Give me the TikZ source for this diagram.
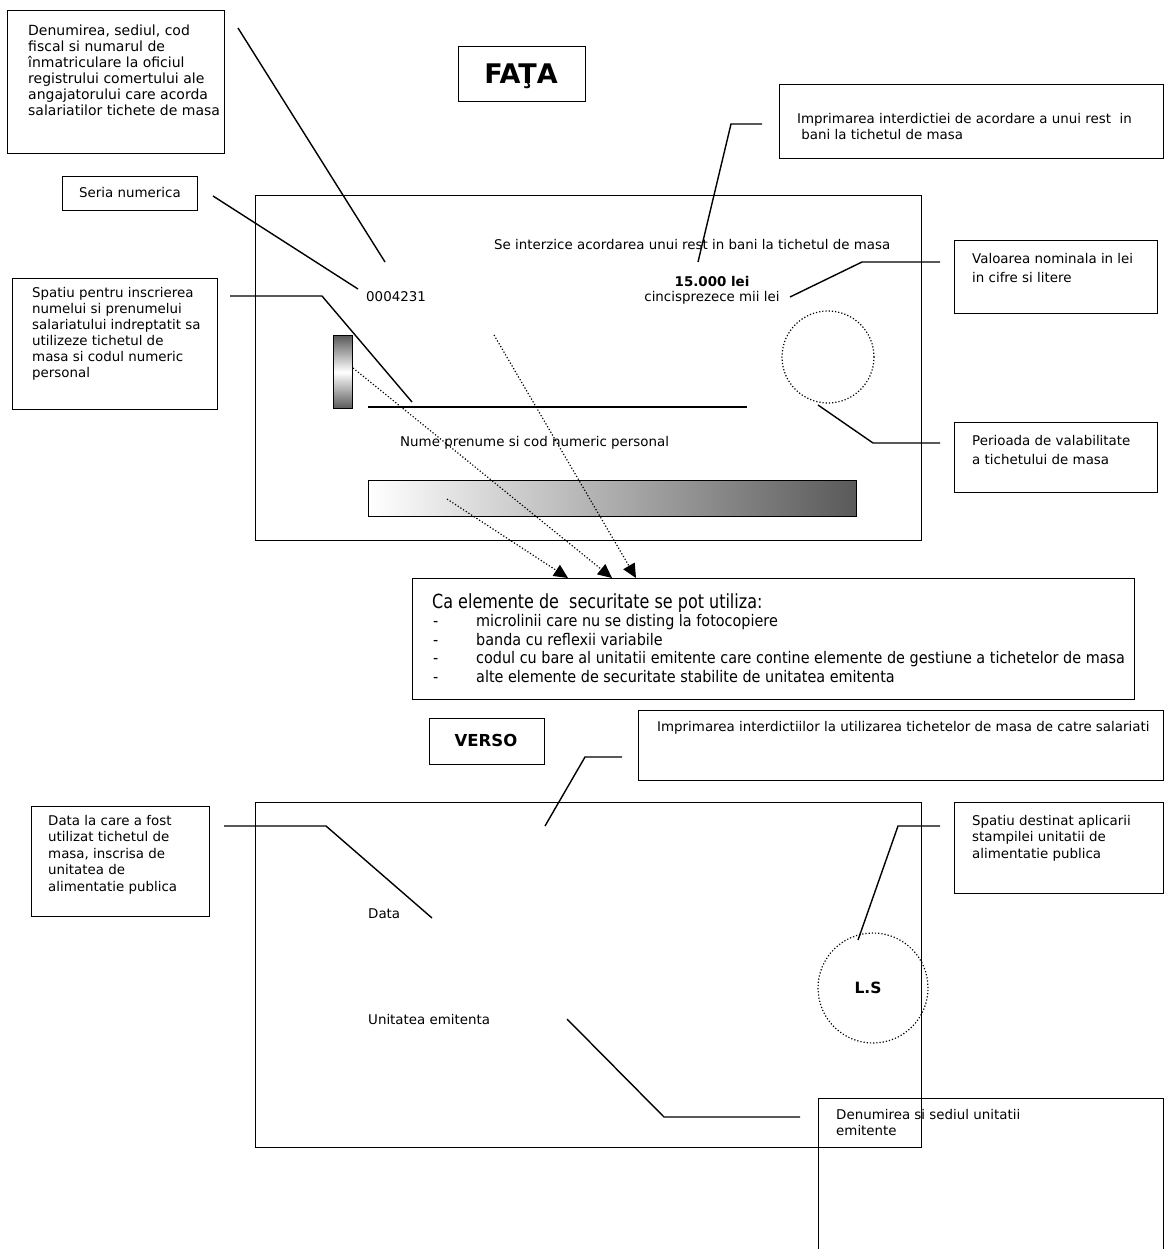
\documentclass[tikz,border=0pt]{standalone}
\usepackage{fontspec}
\setmainfont{DejaVu Sans}
\newfontfamily\titlefont[FakeStretch=0.82]{DejaVu Sans}
\newfontfamily\itemfont[FakeStretch=0.9]{DejaVu Sans}
\usetikzlibrary{arrows.meta}
\begin{document}
\begin{tikzpicture}[x=1pt,y=-1pt,
  box/.style={draw, line width=1.3pt, inner sep=0pt, anchor=north west},
  card/.style={draw, line width=1.4pt, inner sep=0pt, anchor=north west},
  txt/.style={inner sep=0pt, anchor=north west, align=left, font=\fontsize{13.4}{16}\selectfont},
  lbl/.style={inner sep=0pt, anchor=west, font=\fontsize{13.4}{16}\selectfont},
  leader/.style={line width=1.4pt},
  dotarrow/.style={dotted, line width=1.2pt, -{Triangle[length=14pt,width=13pt]}},
  dotcirc/.style={draw, dotted, line width=1.2pt, circle, inner sep=0pt}
]
\fill[white] (0,0) rectangle (1164,1249);
\useasboundingbox (0,0) rectangle (1164,1249);

% ---------------- FATA ----------------
\node[box, minimum width=217pt, minimum height=143pt] (bDen) at (7,10) {};
\node[txt, font=\fontsize{14}{16}\selectfont] (tDen) at (28,25) {Denumirea, sediul, cod\\fiscal si numarul de\\înmatriculare la oficiul\\registrului comertului ale\\angajatorului care acorda\\salariatilor tichete de masa};

\node[box, minimum width=127pt, minimum height=55pt] (bFata) at (458,46) {};
\node[inner sep=0pt, font=\bfseries\fontsize{27}{30}\selectfont] (tFata) at (521,76) {FAŢA};

\node[box, minimum width=384pt, minimum height=74pt] (bImp) at (779,84) {};
\node[txt] (tImp) at (797,113) {Imprimarea interdictiei de acordare a unui rest\ \ in\\\ bani la tichetul de masa};

\node[box, minimum width=135pt, minimum height=34pt] (bSer) at (62,176) {};
\node[inner sep=0pt, font=\fontsize{13.4}{16}\selectfont] (tSer) at (130,193) {Seria numerica};

\node[card, minimum width=666pt, minimum height=345pt] (cardF) at (255,195) {};

\node[lbl] (tInter) at (494,245) {Se interzice acordarea unui rest in bani la tichetul de masa};
\node[inner sep=0pt, font=\bfseries\fontsize{13.4}{16}\selectfont] (tVal) at (712,282) {15.000 lei};
\node[inner sep=0pt, font=\fontsize{13.4}{16}\selectfont] (tValL) at (712,298) {cincisprezece mii lei};
\node[lbl] (tSerie) at (366,297) {0004231};

\node[box, minimum width=205pt, minimum height=131pt] (bSpa) at (12,278) {};
\node[txt] (tSpa) at (32,287) {Spatiu pentru inscrierea\\numelui si prenumelui\\salariatului indreptatit sa\\utilizeze tichetul de\\masa si codul numeric\\personal};

\node[box, minimum width=203pt, minimum height=73pt] (bValB) at (954,240) {};
\node[txt, font=\fontsize{13.4}{19.5}\selectfont] (tValB) at (972,253) {Valoarea nominala in lei\\in cifre si litere};

\node[dotcirc, minimum size=92pt] (circF) at (828,357) {};

\node[box, minimum width=203pt, minimum height=70pt] (bPer) at (954,422) {};
\node[txt, font=\fontsize{13.4}{19.5}\selectfont] (tPer) at (972,435) {Perioada de valabilitate\\a tichetului de masa};

\node[draw, line width=1.1pt, inner sep=0pt, anchor=north west, minimum width=19pt, minimum height=73pt,
      top color=black!65, bottom color=black!65, middle color=white] (smallBar) at (333,335) {};
\draw[line width=1.3pt] (368,407) coordinate (nameL) -- (747,407) coordinate (nameR);
\node[lbl] (tNume) at (400,443) {Nume prenume si cod numeric personal};
\node[draw, line width=1.2pt, inner sep=0pt, anchor=north west, minimum width=488pt, minimum height=36pt,
      left color=white, right color=black!65] (bigBar) at (368,480) {};

% security box
\node[box, minimum width=722pt, minimum height=121pt] (bSec) at (412,578) {};
\node[inner sep=0pt, anchor=west, font=\titlefont\fontsize{19.5}{22}\selectfont] (tSecT) at (432,603) {Ca elemente de\ \ securitate se pot utiliza:};
\node[inner sep=0pt, anchor=north west, align=left, font=\itemfont\fontsize{16}{18.7}\selectfont] (tSecI) at (433,614)
 {\makebox[43pt][l]{-}microlinii care nu se disting la fotocopiere\\
  \makebox[43pt][l]{-}banda cu reflexii variabile\\
  \makebox[43pt][l]{-}codul cu bare al unitatii emitente care contine elemente de gestiune a tichetelor de masa\\
  \makebox[43pt][l]{-}alte elemente de securitate stabilite de unitatea emitenta};

% leaders FATA
\coordinate (l1a) at (238,28);  \coordinate (l1b) at (385,262);
\draw[leader] (l1a) -- (l1b);
\coordinate (l2a) at (213,196); \coordinate (l2b) at (358,289);
\draw[leader] (l2a) -- (l2b);
\coordinate (l3a) at (230,296); \coordinate (l3m) at (322,296); \coordinate (l3b) at (412,402);
\draw[leader] (l3a) -- (l3m) -- (l3b);
\coordinate (l4a) at (698,262); \coordinate (l4m) at (731,124); \coordinate (l4b) at (762,124);
\draw[leader] (l4a) -- (l4m) -- (l4b);
\coordinate (l5a) at (790,297); \coordinate (l5m) at (862,262); \coordinate (l5b) at (940,262);
\draw[leader] (l5a) -- (l5m) -- (l5b);
\coordinate (l6a) at (818,405); \coordinate (l6m) at (873,443); \coordinate (l6b) at (940,443);
\draw[leader] (l6a) -- (l6m) -- (l6b);

% dotted arrows
\coordinate (d1) at (353,368); \coordinate (d2) at (494,335); \coordinate (d3) at (447,499);
\coordinate (tip1) at (612,578); \coordinate (tip2) at (636,578); \coordinate (tip3) at (568,578);
\draw[dotarrow] (d1) -- (tip1);
\draw[dotarrow] (d2) -- (tip2);
\draw[dotarrow] (d3) -- (tip3);

% ---------------- VERSO ----------------
\node[box, minimum width=115pt, minimum height=46pt] (bVerso) at (429,718) {};
\node[inner sep=0pt, font=\bfseries\fontsize{16.5}{19}\selectfont] (tVerso) at (486,740) {VERSO};

\node[box, minimum width=525pt, minimum height=70pt] (bImp2) at (638,710) {};
\node[lbl] (tImp2) at (657,728) {Imprimarea interdictiilor la utilizarea tichetelor de masa de catre salariati};

\node[card, minimum width=666pt, minimum height=345pt] (cardV) at (255,802) {};

\node[box, minimum width=178pt, minimum height=110pt] (bData) at (31,806) {};
\node[txt, font=\fontsize{13.4}{16.5}\selectfont] (tData) at (48,815) {Data la care a fost\\utilizat tichetul de\\masa, inscrisa de\\unitatea de\\alimentatie publica};

\node[lbl] (tDataC) at (368,914) {Data};

\node[box, minimum width=209pt, minimum height=91pt] (bSpd) at (954,802) {};
\node[txt, font=\fontsize{13.4}{16.5}\selectfont] (tSpd) at (972,815) {Spatiu destinat aplicarii\\stampilei unitatii de\\alimentatie publica};

\node[dotcirc, minimum size=110pt] (circV) at (873,988) {};
\node[inner sep=0pt, font=\bfseries\fontsize{15.5}{18}\selectfont] (tLS) at (868,988) {L.S};

\node[lbl] (tUnit) at (368,1019) {Unitatea emitenta};

\node[box, minimum width=345pt, minimum height=160pt] (bDen2) at (818,1098) {};
\node[txt] (tDen2) at (836,1109) {Denumirea si sediul unitatii\\emitente};

% leaders VERSO
\coordinate (v1a) at (545,826); \coordinate (v1m) at (585,757); \coordinate (v1b) at (622,757);
\draw[leader] (v1a) -- (v1m) -- (v1b);
\coordinate (v2a) at (224,826); \coordinate (v2m) at (326,826); \coordinate (v2b) at (432,918);
\draw[leader] (v2a) -- (v2m) -- (v2b);
\coordinate (v3a) at (858,940); \coordinate (v3m) at (898,826); \coordinate (v3b) at (940,826);
\draw[leader] (v3a) -- (v3m) -- (v3b);
\coordinate (v4a) at (567,1019); \coordinate (v4m) at (664,1117); \coordinate (v4b) at (800,1117);
\draw[leader] (v4a) -- (v4m) -- (v4b);
\end{tikzpicture}
\end{document}
